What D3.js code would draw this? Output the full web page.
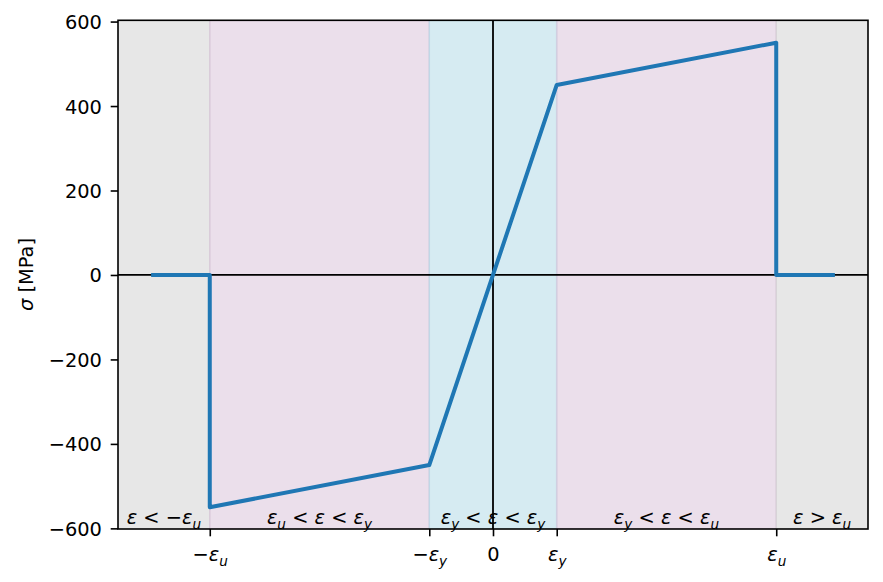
<!DOCTYPE html>
<html><head><meta charset="utf-8">
<script src="https://cdn.jsdelivr.net/npm/d3@7"></script>
<style>body{margin:0;background:#fff}svg{display:block}text{font-family:"DejaVu Sans",sans-serif;}</style>
</head><body><svg id="c" width="883" height="582"></svg>
<script>
const epsY = 0.00225, epsU = 0.01;
const strain = [-0.012, -0.01, -0.01, -0.00225, 0, 0.00225, 0.01, 0.01, 0.012];
const stress = [0, 0, -550, -450, 0, 450, 550, 0, 0];
const xTicks = [-epsU, -epsY, 0, epsY, epsU];
const xTickLabels = [
  [["−",""],["ε","i"],["u","sub"]],
  [["−",""],["ε","i"],["y","sub"]],
  [["0",""]],
  [["ε","i"],["y","sub"]],
  [["ε","i"],["u","sub"]]
];
const yTicks = [-600, -400, -200, 0, 200, 400, 600];
const regionBounds = [[-0.01324, -epsU],[-epsU,-epsY],[-epsY,epsY],[epsY,epsU],[epsU,0.01324]];
const regionColors = ["#d0d0d0","#d8bfd8","#add8e6","#d8bfd8","#d0d0d0"];
const regionLabels = [
  [["ε","i"],[" < −",""],["ε","i"],["u","sub"]],
  [["ε","i"],["u","sub"],[" < ",""],["ε","i"],[" < ",""],["ε","i"],["y","sub"]],
  [["ε","i"],["y","sub"],[" < ",""],["ε","i"],[" < ",""],["ε","i"],["y","sub"]],
  [["ε","i"],["y","sub"],[" < ",""],["ε","i"],[" < ",""],["ε","i"],["u","sub"]],
  [["ε","i"],[" > ",""],["ε","i"],["u","sub"]]
];

const L = 118, R = 868, T = 20.3, B = 529;
const FS = 19.4;
const x = d3.scaleLinear().domain([-0.01324, 0.01324]).range([L, R]);
const y = d3.scaleLinear().domain([-601.5, 603]).range([B, T]);
const svg = d3.select("#c");

function mathText(t, parts){
  let down = false;
  parts.forEach(p=>{
    const sp = t.append("tspan").text(p[0]);
    if (p[1]==="sub"){ sp.attr("font-size",FS*0.7).attr("font-style","italic").attr("dy",4.5); down = true; }
    else {
      if (p[1]==="i") sp.attr("font-style","italic");
      if (down){ sp.attr("dy",-4.5); down=false; }
    }
  });
}

svg.append("defs").append("clipPath").attr("id","clip")
  .append("rect").attr("x",L).attr("y",T).attr("width",R-L).attr("height",B-T);
const g = svg.append("g").attr("clip-path","url(#clip)");

regionBounds.forEach((b,i)=>{
  g.append("rect").attr("x",x(b[0])).attr("y",T).attr("width",x(b[1])-x(b[0])).attr("height",B-T)
    .attr("fill",regionColors[i]).attr("fill-opacity",0.5)
    .attr("stroke",regionColors[i]).attr("stroke-opacity",0.5).attr("stroke-width",1.5);
});

g.append("line").attr("x1",L).attr("x2",R).attr("y1",y(0)).attr("y2",y(0)).attr("stroke","#000").attr("stroke-width",1.8);
g.append("line").attr("x1",x(0)).attr("x2",x(0)).attr("y1",T).attr("y2",B).attr("stroke","#000").attr("stroke-width",1.8);

const pts = strain.map((s,i)=>[s, stress[i]]);
g.append("path").datum(pts)
  .attr("d", d3.line().x(d=>x(d[0])).y(d=>y(d[1])))
  .attr("fill","none").attr("stroke","#1f77b4").attr("stroke-width",4).attr("stroke-linejoin","round").attr("stroke-linecap","square");

regionBounds.forEach((b,i)=>{
  const t = svg.append("text").attr("x",(x(b[0])+x(b[1]))/2).attr("y",524)
    .attr("text-anchor","middle").attr("font-size",FS);
  mathText(t, regionLabels[i]);
});

svg.append("rect").attr("x",L).attr("y",T).attr("width",R-L).attr("height",B-T)
  .attr("fill","none").attr("stroke","#000").attr("stroke-width",1.6);

const yAxis = svg.append("g").attr("transform",`translate(${L},0)`)
  .call(d3.axisLeft(y).tickValues(yTicks).tickSize(7.3).tickPadding(8.8).tickFormat(d=>(d<0?"\u2212":"")+Math.abs(d)));
yAxis.select(".domain").remove();
yAxis.selectAll(".tick line").attr("stroke","#000").attr("stroke-width",1.6);
yAxis.selectAll(".tick text").attr("font-size",FS).attr("fill","#000").attr("dy","0.36em");

const xAxis = svg.append("g").attr("transform",`translate(0,${B})`)
  .call(d3.axisBottom(x).tickValues(xTicks).tickSize(7.3).tickPadding(7).tickFormat(""));
xAxis.select(".domain").remove();
xAxis.selectAll(".tick line").attr("stroke","#000").attr("stroke-width",1.6);
xAxis.selectAll(".tick").each(function(d,i){
  const t = d3.select(this).append("text").attr("y",32).attr("text-anchor","middle")
    .attr("font-size",FS).attr("fill","#000");
  mathText(t, xTickLabels[i]);
});

const yl = svg.append("text").attr("transform","translate(33,274.5) rotate(-90)").attr("text-anchor","middle").attr("font-size",FS);
yl.append("tspan").text("σ").attr("font-style","italic");
yl.append("tspan").text(" [MPa]");
</script></body></html>
